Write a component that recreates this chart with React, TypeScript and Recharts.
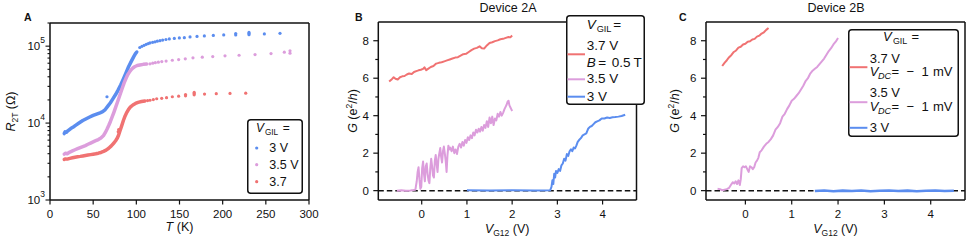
import React from "react"
import { ComposedChart, Line, Scatter, XAxis, YAxis, ReferenceLine, Legend } from "recharts"

const FONT = '"Liberation Sans", Arial, Helvetica, sans-serif'
const INK = "#111"
const RED = "#f07272"
const PINK = "#dc9ddc"
const BLUE = "#5b8def"
const AXIS = { stroke: INK, strokeWidth: 1.5 }
const TICK_FS = 11.5
const LABEL_FS = 12.5

// ---------- panel A: R_2T vs T ----------
const tempTicks = [0, 50, 100, 150, 200, 250, 300]
const rTicks = [
  1000, 2000, 3000, 4000, 5000, 6000, 7000, 8000, 9000,
  10000, 20000, 30000, 40000, 50000, 60000, 70000, 80000, 90000,
  100000, 200000,
]
const legendLabelsA = ["3 V", "3.5 V", "3.7"]

// dense part of each sweep (T in K, R in ohm)
const blueDense: [number, number][] = [
  [16.5, 7300], [17.5, 7700], [19, 7600], [21, 8000], [24, 8500], [27, 8900], [30, 9400],
  [34, 10100], [38, 10800], [42, 11400], [46, 12000], [50, 12600], [54, 13100], [58, 13600],
  [61, 14100], [64, 15000], [67, 16600], [70, 18400], [73, 20800], [76, 23500], [79, 27000],
  [82, 31500], [85, 37500], [88, 45000], [91, 54000], [94, 63000], [97, 73000], [99, 80000],
  [100.5, 84000],
]
const blueSparse: [number, number][] = [
  [66, 22000], [104, 96000], [106.5, 99500], [109, 102500], [111.5, 105500], [113.8, 108000],
  [115.8, 110000], [118.9, 112000], [121.6, 114000], [124.3, 116000], [127.4, 118000],
  [130.5, 120000], [134.3, 122000], [138.2, 124000], [144, 126000], [149.8, 128000],
  [155.6, 129000], [162.2, 132000], [170.3, 134000], [178.8, 136000], [189.2, 138000],
  [201.2, 140000], [215.1, 140000], [215.1, 146000], [230.5, 141000], [230.5, 146000],
  [230.5, 151000], [248.3, 144000], [266.4, 147000],
]
const pinkDense: [number, number][] = [
  [16.5, 3950], [18, 4050], [20, 4000], [23, 4200], [26, 4350], [29, 4500], [32, 4650],
  [35, 4800], [38, 4950], [41, 5100], [44, 5300], [47, 5500], [50, 5700], [53, 5900],
  [56, 6100], [59, 6400], [62, 6900], [64, 7500], [66, 8300], [68, 9300], [70, 10500],
  [72, 12000], [74, 13800], [76, 16000], [78, 18500], [80, 21500], [82, 25000], [84, 29000],
  [86, 33500], [88, 38000], [90, 42500], [92, 46000], [94, 49500], [96, 52000], [98, 54000],
  [101, 56000], [104, 57000], [108, 58000], [112, 58500],
]
const pinkSparse: [number, number][] = [
  [115.8, 59000], [119, 60000], [122, 61000], [125.5, 62000], [129.5, 63000], [134.5, 64000],
  [141.7, 65600], [149, 67000], [156.7, 68400], [165.6, 70500], [176.4, 71800],
  [188.5, 73300], [202.7, 74800], [219, 76200], [237.5, 77800], [256, 80200],
  [271.4, 83400], [278, 81000], [278, 87000],
]
const redDense: [number, number][] = [
  [16.5, 3370], [18, 3420], [20, 3400], [23, 3480], [26, 3540], [29, 3600], [32, 3650],
  [35, 3690], [38, 3740], [41, 3790], [44, 3840], [47, 3890], [50, 3940], [53, 3990],
  [56, 4060], [59, 4150], [62, 4280], [65, 4450], [68, 4700], [71, 5050], [74, 5500],
  [76, 5900], [78, 6400], [79.5, 7000], [81, 7900], [83, 9200], [85, 10800], [87, 12400],
  [89, 13800], [91, 15100], [93, 16100], [96, 17200], [99, 18000], [102, 18600],
  [106, 19100], [110, 19400],
]
const redSparse: [number, number][] = [
  [79, 7700], [79.5, 8200], [113, 19600], [115.8, 19800], [119.7, 20200], [123.6, 20700],
  [129.4, 21000], [135, 21400], [141.7, 22000], [149, 22400], [157, 22600], [157, 23500],
  [167, 23300], [167, 24200], [167, 25000], [179, 23800], [192.6, 24100], [208.5, 24300],
  [226.7, 24500],
]

// ---------- panels B and C: G vs V_G12 ----------
const gTicks = [0, 1, 2, 3, 4, 5, 6, 7, 8]
const vTicks = [0, 1, 2, 3, 4]

const devA_red: [number, number][] = [
  [-0.72, 5.82], [-0.66, 5.95], [-0.62, 6.05], [-0.58, 5.97], [-0.53, 5.93], [-0.48, 6.05],
  [-0.43, 6.1], [-0.38, 6.12], [-0.33, 6.2], [-0.28, 6.25], [-0.22, 6.22], [-0.17, 6.33],
  [-0.12, 6.38], [-0.07, 6.42], [-0.02, 6.45], [0.03, 6.5], [0.06, 6.58], [0.1, 6.43],
  [0.14, 6.5], [0.2, 6.6], [0.26, 6.65], [0.32, 6.78], [0.38, 6.82], [0.44, 6.85], [0.5, 6.9],
  [0.56, 6.95], [0.62, 7.0], [0.68, 7.05], [0.74, 7.1], [0.8, 7.12], [0.86, 7.2], [0.92, 7.28],
  [0.98, 7.3], [1.04, 7.4], [1.1, 7.5], [1.16, 7.58], [1.22, 7.62], [1.28, 7.7], [1.33, 7.6],
  [1.38, 7.58], [1.44, 7.75], [1.5, 7.88], [1.56, 7.92], [1.62, 7.98], [1.68, 8.02],
  [1.74, 8.08], [1.8, 8.1], [1.86, 8.15], [1.92, 8.2], [1.96, 8.18], [2.0, 8.28],
]
const devA_pink: [number, number][] = [
  [-0.55, 0], [-0.45, 0.02], [-0.35, 0], [-0.25, 0.01], [-0.18, 0.03], [-0.14, 0.05],
  [-0.11, 0.5], [-0.09, 1.0], [-0.07, 1.25], [-0.05, 0.6], [-0.03, 0.1], [-0.01, 0.2],
  [0.01, 1.2], [0.03, 1.55], [0.05, 0.9], [0.07, 0.5], [0.09, 1.3], [0.11, 1.45], [0.13, 0.9],
  [0.15, 0.55], [0.17, 0.4], [0.19, 1.2], [0.21, 1.7], [0.23, 1.3], [0.25, 0.8], [0.27, 0.7],
  [0.29, 1.6], [0.31, 1.9], [0.33, 1.4], [0.35, 1.0], [0.37, 1.7], [0.39, 2.0], [0.41, 2.27],
  [0.43, 1.8], [0.45, 1.5], [0.47, 2.1], [0.49, 2.35], [0.51, 2.0], [0.53, 1.6], [0.55, 1.0],
  [0.57, 1.9], [0.59, 2.4], [0.61, 2.2], [0.63, 2.3], [0.66, 2.1], [0.69, 2.35], [0.72, 2.0],
  [0.75, 2.2], [0.78, 1.95], [0.81, 2.35], [0.84, 2.5], [0.87, 2.3], [0.9, 2.6], [0.93, 2.4],
  [0.96, 2.7], [0.99, 2.55], [1.02, 2.85], [1.05, 2.7], [1.08, 2.95], [1.11, 2.8], [1.14, 3.1],
  [1.17, 2.95], [1.2, 3.25], [1.23, 3.1], [1.26, 3.3], [1.29, 3.15], [1.32, 3.4], [1.35, 3.2],
  [1.38, 3.5], [1.41, 3.35], [1.44, 3.7], [1.47, 3.4], [1.5, 3.9], [1.53, 3.6], [1.56, 3.95],
  [1.59, 3.5], [1.62, 3.85], [1.65, 3.75], [1.68, 4.1], [1.71, 3.95], [1.74, 4.2], [1.77, 4.0],
  [1.8, 4.15], [1.83, 4.35], [1.86, 4.5], [1.88, 4.6], [1.9, 4.75], [1.92, 4.8], [1.94, 4.55],
  [1.96, 4.45], [1.98, 4.35], [2.0, 4.25],
]
const devA_blue: [number, number][] = [
  [1.0, 0.02], [1.5, 0.01], [2.0, 0.02], [2.5, 0.01], [2.84, 0.02], [2.87, 0.2], [2.89, 0.55],
  [2.91, 0.35], [2.93, 0.9], [2.95, 0.7], [2.97, 1.05], [3.0, 0.95], [3.03, 1.15], [3.06, 1.05],
  [3.09, 1.35], [3.12, 1.45], [3.15, 1.7], [3.18, 1.6], [3.21, 1.95], [3.24, 1.85], [3.27, 2.1],
  [3.3, 2.2], [3.33, 2.1], [3.36, 2.3], [3.39, 2.25], [3.42, 2.4], [3.45, 2.6], [3.48, 2.7],
  [3.52, 2.8], [3.56, 2.95], [3.6, 3.0], [3.64, 3.05], [3.68, 3.3], [3.72, 3.4], [3.76, 3.45],
  [3.8, 3.55], [3.84, 3.65], [3.88, 3.7], [3.93, 3.75], [3.98, 3.85], [4.04, 3.85], [4.1, 3.9],
  [4.16, 3.88], [4.22, 3.92], [4.28, 3.93], [4.35, 3.95], [4.42, 3.98], [4.5, 4.05],
]

const devB_red: [number, number][] = [
  [-0.5, 6.65], [-0.45, 6.82], [-0.4, 6.96], [-0.35, 7.12], [-0.3, 7.24], [-0.25, 7.4],
  [-0.2, 7.48], [-0.15, 7.63], [-0.1, 7.68], [-0.05, 7.8], [0, 7.84], [0.05, 7.95],
  [0.1, 7.97], [0.15, 8.07], [0.2, 8.1], [0.25, 8.22], [0.3, 8.27], [0.35, 8.38],
  [0.4, 8.45], [0.45, 8.58], [0.5, 8.68],
]
const devB_pink: [number, number][] = [
  [-0.6, 0.1], [-0.55, 0.08], [-0.5, 0.02], [-0.45, 0.05], [-0.4, 0.08], [-0.35, 0.15],
  [-0.3, 0.35], [-0.27, 0.45], [-0.24, 0.38], [-0.21, 0.5], [-0.18, 0.35], [-0.15, 0.55],
  [-0.12, 0.3], [-0.1, 0.6], [-0.08, 1.2], [-0.05, 1.3], [-0.02, 1.25], [0.01, 1.3],
  [0.04, 1.15], [0.07, 1.0], [0.1, 1.3], [0.13, 1.25], [0.16, 1.15], [0.19, 1.25], [0.22, 1.5],
  [0.25, 1.6], [0.28, 1.75], [0.31, 2.05], [0.35, 2.15], [0.4, 2.35], [0.45, 2.5], [0.5, 2.6],
  [0.55, 2.75], [0.6, 2.95], [0.65, 3.25], [0.7, 3.4], [0.75, 3.6], [0.8, 3.95], [0.85, 4.1],
  [0.9, 4.35], [0.95, 4.55], [1.0, 4.8], [1.05, 4.9], [1.1, 5.05], [1.15, 5.2], [1.2, 5.4],
  [1.25, 5.6], [1.3, 5.85], [1.35, 6.0], [1.4, 6.25], [1.45, 6.4], [1.5, 6.5], [1.55, 6.6],
  [1.6, 6.75], [1.65, 6.9], [1.7, 7.05], [1.75, 7.25], [1.8, 7.45], [1.85, 7.6], [1.9, 7.8],
  [1.95, 7.95], [2.0, 8.15],
]
const devB_blue: [number, number][] = [
  [1.5, -0.02], [1.7, 0.01], [1.9, -0.03], [2.1, 0.0], [2.3, -0.02], [2.5, 0.01], [2.7, -0.03],
  [2.9, -0.01], [3.1, 0.01], [3.3, -0.02], [3.5, 0.0], [3.7, -0.03], [3.9, -0.01], [4.1, 0.01],
  [4.3, -0.02], [4.5, -0.01],
]

const toRT = (pts: [number, number][]) => pts.map(([T, R]) => ({ T, R }))
const toVG = (pts: [number, number][]) => pts.map(([V, G]) => ({ V, G }))

// ---------- ticks ----------
function XTick({ x, y, payload }: any) {
  return (
    <g>
      <line x1={x} x2={x} y1={y} y2={y + 4.5} stroke={INK} strokeWidth={1.2} />
      <text x={x} y={y + 17.5} textAnchor="middle" fontSize={TICK_FS} fill={INK}>
        {payload.value}
      </text>
    </g>
  )
}

function LogYTick({ x, y, payload }: any) {
  const v = payload.value
  const exp = Math.round(Math.log10(v))
  const major = Math.abs(Math.pow(10, exp) - v) < 1e-6
  return (
    <g>
      <line x1={x} x2={x - (major ? 4.5 : 2.5)} y1={y} y2={y} stroke={INK} strokeWidth={1.1} />
      {major && (
        <text x={x - 5} y={y + 4} textAnchor="end" fontSize={TICK_FS} fill={INK}>
          10
          <tspan dy={-7} fontSize={8.5}>
            {exp}
          </tspan>
        </text>
      )}
    </g>
  )
}

function GTick({ x, y, payload }: any) {
  const major = payload.value % 2 === 0
  return (
    <g>
      <line x1={x} x2={x - (major ? 5 : 3)} y1={y} y2={y} stroke={INK} strokeWidth={1.2} />
      {major && (
        <text x={x - 9.5} y={y + 4} textAnchor="end" fontSize={TICK_FS} fill={INK}>
          {payload.value}
        </text>
      )}
    </g>
  )
}

// ---------- labels ----------
const panelLetter = (letter: string, x: number, y: number, title?: string, tx?: number) => () => (
  <g fill={INK}>
    <text x={x} y={y} fontSize={10.5} fontWeight="bold">
      {letter}
    </text>
    {title && (
      <text x={tx} y={11.7} fontSize={12.5} textAnchor="middle">
        {title}
      </text>
    )}
  </g>
)

const vgLabel = (cx: number) => () => (
  <text x={cx} y={233} textAnchor="middle" fontSize={LABEL_FS} fill={INK}>
    <tspan fontStyle="italic">V</tspan>
    <tspan dy={3} fontSize={8.5}>
      G12
    </tspan>
    <tspan dy={-3}> (V)</tspan>
  </text>
)

const gLabel = (bx: number) => () => (
  <text x={bx} y={111} transform={`rotate(-90 ${bx} 111)`} textAnchor="middle" fontSize={LABEL_FS} fill={INK}>
    <tspan fontStyle="italic">G</tspan>
    <tspan> (e</tspan>
    <tspan dy={-5} fontSize={8.5}>
      2
    </tspan>
    <tspan dy={5}>/</tspan>
    <tspan fontStyle="italic">h</tspan>
    <tspan>)</tspan>
  </text>
)

const gilTitle = (vx: number, subx: number, eqx: number, y: number, fs: number) => (
  <text y={y} fontSize={fs} fill={INK}>
    <tspan x={vx} fontStyle="italic">
      V
    </tspan>
    <tspan x={subx} dy={3} fontSize={fs * 0.68}>
      GIL
    </tspan>
    <tspan x={eqx} dy={-3}>
      =
    </tspan>
  </text>
)

// ---------- legends ----------
function LegendA() {
  const colors = [BLUE, PINK, RED]
  const ys = [29, 45.7, 62.7]
  return (
    <svg width={56} height={75} style={{ display: "block", fontFamily: FONT }}>
      <rect x={0.75} y={0.75} width={54.5} height={73.5} rx={3} fill="#fff" stroke={INK} strokeWidth={1.5} />
      {gilTitle(9, 18, 35.7, 12.7, 12)}
      {legendLabelsA.map((label, i) => (
        <g key={label}>
          <circle cx={9.7} cy={ys[i]} r={1.6} fill={colors[i]} />
          <text x={22.3} y={ys[i] + 4.3} fontSize={12.5} fill={INK}>
            {label}
          </text>
        </g>
      ))}
    </svg>
  )
}

function LegendB() {
  const fs = 13.5
  return (
    <svg width={79} height={90} style={{ display: "block", fontFamily: FONT }}>
      <rect x={0.75} y={0.75} width={77.5} height={88.5} rx={3} fill="#fff" stroke={INK} strokeWidth={1.5} />
      {gilTitle(20.7, 30.7, 47.3, 14.3, fs)}
      <text x={20.7} y={35} fontSize={fs} fill={INK}>
        3.7 V
      </text>
      <text y={51.7} fontSize={fs} fill={INK}>
        <tspan x={20.7} fontStyle="italic">
          B
        </tspan>
        <tspan x={32.3}>=</tspan>
        <tspan x={45.7}>0.5</tspan>
        <tspan x={67.5}>T</tspan>
      </text>
      <text x={20.7} y={67.7} fontSize={fs} fill={INK}>
        3.5 V
      </text>
      <text x={20.7} y={86.4} fontSize={fs} fill={INK}>
        3 V
      </text>
      <line x1={1.5} x2={19} y1={39.3} y2={39.3} stroke={RED} strokeWidth={2} />
      <line x1={1.5} x2={19} y1={64.3} y2={64.3} stroke={PINK} strokeWidth={2} />
      <line x1={1.5} x2={19} y1={81.7} y2={81.7} stroke={BLUE} strokeWidth={2} />
    </svg>
  )
}

function vdcRow(y: number, fs: number) {
  return (
    <text y={y} fontSize={fs} fill={INK}>
      <tspan x={21.7} fontStyle="italic">
        V
      </tspan>
      <tspan x={30} dy={3} fontSize={fs * 0.7} fontStyle="italic">
        DC
      </tspan>
      <tspan x={43.4} dy={-3}>
        =
      </tspan>
      <tspan x={58.4}>−</tspan>
      <tspan x={73.4}>1</tspan>
      <tspan x={85}>mV</tspan>
    </text>
  )
}

function LegendC() {
  const fs = 13
  return (
    <svg width={111} height={108} style={{ display: "block", fontFamily: FONT }}>
      <rect x={0.75} y={0.75} width={109.5} height={106.5} rx={3} fill="#fff" stroke={INK} strokeWidth={1.5} />
      {gilTitle(35, 45, 63.4, 12.2, fs)}
      <text x={21.7} y={33.8} fontSize={fs} fill={INK}>
        3.7 V
      </text>
      {vdcRow(47, fs)}
      <text x={21.7} y={68.2} fontSize={fs} fill={INK}>
        3.5 V
      </text>
      {vdcRow(81.5, fs)}
      <text x={21.7} y={103} fontSize={fs} fill={INK}>
        3 V
      </text>
      <line x1={1.7} x2={19.4} y1={38.2} y2={38.2} stroke={RED} strokeWidth={2} />
      <line x1={1.7} x2={19.4} y1={73.2} y2={73.2} stroke={PINK} strokeWidth={2} />
      <line x1={1.7} x2={19.4} y1={98.8} y2={98.8} stroke={BLUE} strokeWidth={2} />
    </svg>
  )
}

const dot = (color: string) => (p: any) => <circle cx={p.cx} cy={p.cy} r={1.6} fill={color} />

// ---------- panels ----------
function PanelA() {
  const lineProps = { dataKey: "R", dot: false, activeDot: false, strokeWidth: 3.5, strokeLinecap: "round" as const, strokeLinejoin: "round" as const, isAnimationActive: false, type: "linear" as const }
  return (
    <ComposedChart width={320} height={242} margin={{ top: 22, right: 10, bottom: 0, left: 0 }}>
      <XAxis xAxisId="top" orientation="top" type="number" domain={[0, 1]} height={1} tick={false} tickLine={false} axisLine={AXIS} label={panelLetter("A", 24, 21)} />
      <XAxis type="number" dataKey="T" domain={[0, 300]} ticks={tempTicks} interval={0} height={42} tickSize={0} tickMargin={0} tickLine={false} axisLine={AXIS} tick={XTick} allowDataOverflow
        label={() => (
          <text x={179.5} y={231} textAnchor="middle" fontSize={LABEL_FS} fill={INK}>
            <tspan fontStyle="italic">T</tspan>
            <tspan> (K)</tspan>
          </text>
        )}
      />
      <YAxis type="number" dataKey="R" scale="log" domain={[1000, 200000]} ticks={rTicks} interval={0} width={50} tickSize={0} tickMargin={0} tickLine={false} axisLine={AXIS} tick={LogYTick} allowDataOverflow
        label={() => (
          <text x={15} y={111.5} transform="rotate(-90 15 111.5)" textAnchor="middle" fontSize={LABEL_FS} fill={INK}>
            <tspan fontStyle="italic">R</tspan>
            <tspan dy={3} fontSize={8.5}>2T</tspan>
            <tspan dy={-3}> (Ω)</tspan>
          </text>
        )}
      />
      <YAxis yAxisId="right" orientation="right" type="number" domain={[0, 1]} width={1} tick={false} tickLine={false} axisLine={AXIS} />
      <Line data={toRT(blueDense)} stroke={BLUE} {...lineProps} />
      <Line data={toRT(pinkDense)} stroke={PINK} {...lineProps} />
      <Line data={toRT(redDense)} stroke={RED} {...lineProps} />
      <Scatter data={toRT(blueSparse)} dataKey="R" fill={BLUE} shape={dot(BLUE)} isAnimationActive={false} />
      <Scatter data={toRT(pinkSparse)} dataKey="R" fill={PINK} shape={dot(PINK)} isAnimationActive={false} />
      <Scatter data={toRT(redSparse)} dataKey="R" fill={RED} shape={dot(RED)} isAnimationActive={false} />
      <Legend layout="vertical" align="center" verticalAlign="middle" wrapperStyle={{ left: 247, top: 119, width: 56, height: 75, margin: 0 }} content={() => <LegendA />} />
    </ComposedChart>
  )
}

function PanelG({
  width, plotLeft, right, domain, letter, letterX, title, titleX, yLabelX, xLabelX, red, pink, blue, legend, legendBox,
}: any) {
  const lineProps = { dataKey: "G", dot: false, activeDot: false, strokeWidth: 2, strokeLinejoin: "round" as const, isAnimationActive: false, type: "linear" as const }
  return (
    <ComposedChart width={width} height={242} margin={{ top: 21, right: right - 1, bottom: 0, left: 0 }}>
      <XAxis xAxisId="top" orientation="top" type="number" domain={[0, 1]} height={1} tick={false} tickLine={false} axisLine={AXIS} label={panelLetter(letter, letterX, 21, title, titleX)} />
      <XAxis type="number" dataKey="V" domain={domain} ticks={vTicks} interval={0} height={42} tickSize={0} tickMargin={0} tickLine={false} axisLine={AXIS} tick={XTick} allowDataOverflow label={vgLabel(xLabelX)} />
      <YAxis type="number" domain={[-0.5, 9]} ticks={gTicks} interval={0} width={plotLeft} tickSize={0} tickMargin={0} tickLine={false} axisLine={AXIS} tick={GTick} allowDataOverflow label={gLabel(yLabelX)} />
      <YAxis yAxisId="right" orientation="right" type="number" domain={[0, 1]} width={1} tick={false} tickLine={false} axisLine={AXIS} />
      <ReferenceLine y={0} stroke={INK} strokeWidth={1.5} strokeDasharray="5.5 3" />
      <Line data={toVG(red)} stroke={RED} {...lineProps} />
      <Line data={toVG(pink)} stroke={PINK} {...lineProps} />
      <Line data={toVG(blue)} stroke={BLUE} {...lineProps} strokeWidth={blue === devB_blue ? 2.6 : 2} />
      <Legend layout="vertical" align="center" verticalAlign="middle" wrapperStyle={{ ...legendBox, margin: 0 }} content={() => legend} />
    </ComposedChart>
  )
}

export default function App() {
  return (
    <div style={{ position: "absolute", left: 0, top: 0, width: 968, height: 242, fontFamily: FONT, background: "#fff" }}>
      <div style={{ position: "absolute", left: 0, top: 0 }}>
        <PanelA />
      </div>
      <div style={{ position: "absolute", left: 320, top: 0 }}>
        <PanelG
          width={330} plotLeft={58.3} right={13.5} domain={[-0.96, 4.75]}
          letter="B" letterX={35} title="Device 2A" titleX={188} yLabelX={36.5} xLabelX={187.2}
          red={devA_red} pink={devA_pink} blue={devA_blue}
          legend={<LegendB />} legendBox={{ left: 246, top: 15, width: 79, height: 90 }}
        />
      </div>
      <div style={{ position: "absolute", left: 650, top: 0 }}>
        <PanelG
          width={318} plotLeft={56} right={3} domain={[-0.85, 4.74]}
          letter="C" letterX={29} title="Device 2B" titleX={186} yLabelX={29} xLabelX={185.5}
          red={devB_red} pink={devB_pink} blue={devB_blue}
          legend={<LegendC />} legendBox={{ left: 198.3, top: 28.5, width: 111, height: 108 }}
        />
      </div>
    </div>
  )
}
